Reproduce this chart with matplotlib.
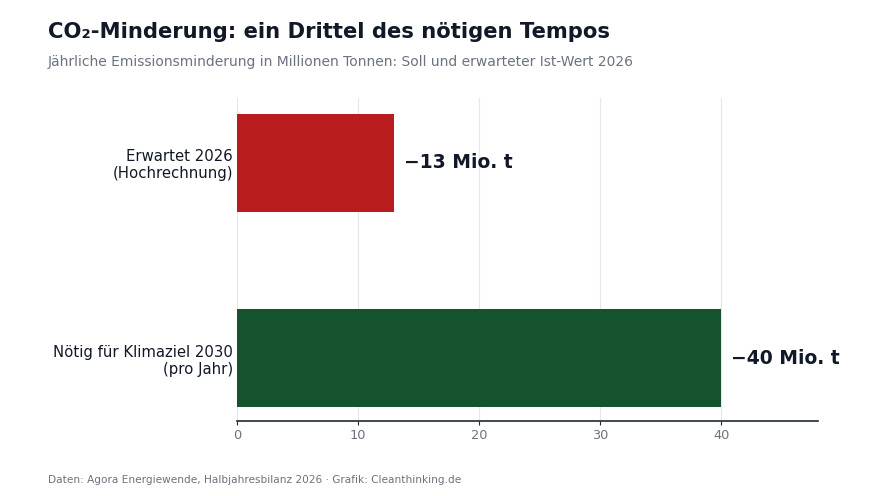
import matplotlib.pyplot as plt

categories = ["Nötig für Klimaziel 2030\n(pro Jahr)", "Erwartet 2026\n(Hochrechnung)"]
values = [40, 13]
value_labels = ["\u221240 Mio. t", "\u221213 Mio. t"]
bar_colors = ["#14532d", "#b91c1c"]
xticks = [0, 10, 20, 30, 40]

plt.rcParams['font.family'] = ['DejaVu Sans']

fig = plt.figure(figsize=(8.8, 4.96), dpi=100)
ax = fig.add_axes([237/880, 1 - 421/496, (818-237)/880, (421-98)/496])

ypos = list(range(len(categories)))
ax.barh(ypos, values, height=0.5, color=bar_colors, zorder=2)

for y, v, lab in zip(ypos, values, value_labels):
    ax.text(v + 0.8, y, lab, va="center", ha="left", fontsize=13.5,
            fontweight="bold", color="#111827")

ax.set_xlim(0, 48)
ax.set_ylim(-0.32, 1.33)
ax.set_yticks(ypos)
ax.set_yticklabels(categories, fontsize=10.7, color="#111827", linespacing=1.15)
ax.set_xticks(xticks)
ax.tick_params(axis="x", colors="#6b7280", labelsize=9.3, length=3, color="#1f2937", pad=3)
ax.tick_params(axis="y", length=0, pad=3)
for lbl in ax.get_yticklabels():
    lbl.set_multialignment("right")

ax.grid(axis="x", color="#e5e7eb", linewidth=0.8, zorder=0)
for s in ["top", "right", "left"]:
    ax.spines[s].set_visible(False)
ax.spines["bottom"].set_color("#1f2937")
ax.spines["bottom"].set_linewidth(1.2)

fig.text(48/880, 1 - 32/496, "CO\u2082-Minderung: ein Drittel des nötigen Tempos",
         fontsize=15.2, fontweight="bold", color="#111827", va="center", ha="left")
fig.text(48/880, 1 - 62/496,
         "Jährliche Emissionsminderung in Millionen Tonnen: Soll und erwarteter Ist-Wert 2026",
         fontsize=10, color="#6b7280", va="center", ha="left")
fig.text(48/880, 1 - 480/496,
         "Daten: Agora Energiewende, Halbjahresbilanz 2026 \u00b7 Grafik: Cleanthinking.de",
         fontsize=7.6, color="#6b7280", va="center", ha="left")

fig.savefig("out.png", dpi=100)
